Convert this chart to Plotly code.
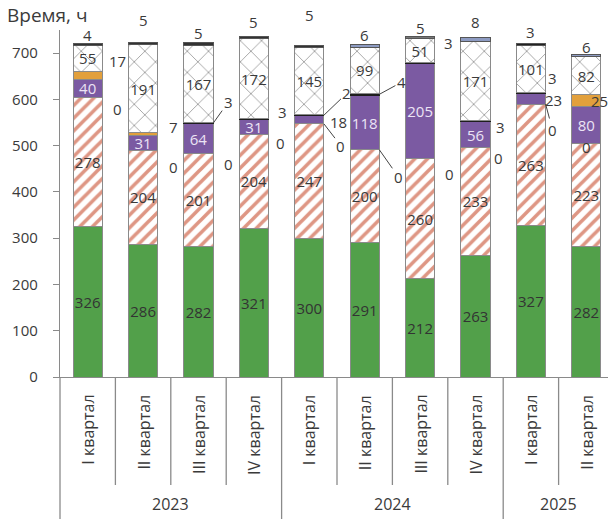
import plotly.graph_objects as go

# ---------------- data ----------------
years = ["2023", "2023", "2023", "2023", "2024", "2024", "2024", "2024", "2025", "2025"]
quarters = ["I квартал", "II квартал", "III квартал", "IV квартал",
            "I квартал", "II квартал", "III квартал", "IV квартал",
            "I квартал", "II квартал"]
green = [326, 286, 282, 321, 300, 291, 212, 263, 327, 282]
red = [278, 204, 201, 204, 247, 200, 260, 233, 263, 223]
zero = [0, 0, 0, 0, 0, 0, 0, 0, 0, 0]
purple = [40, 31, 64, 31, 18, 118, 205, 56, 23, 80]
black = [0, 0, 3, 3, 2, 4, 3, 3, 3, 0]
orange = [17, 7, 0, 0, 0, 0, 0, 0, 0, 25]
cross = [55, 191, 167, 172, 145, 99, 51, 171, 101, 82]
top = [4, 5, 5, 5, 5, 6, 5, 8, 3, 6]
y_ticks = [0, 100, 200, 300, 400, 500, 600, 700]
y_title = "Время, ч"

# ---------------- style ----------------
FONT = "Open Sans"
TXT = "#3a3a3a"
LINE = "#8a8a8a"
BW = 0.53
n = len(quarters)
xs = list(range(n))
top_colors = ["#333333", "#333333", "#333333", "#333333", "#333333",
              "#8d9bc2", "#777777", "#8d9bc2", "#222222", "#8d9bc2"]
inside_purple_show = [True, True, True, True, False, True, True, True, False, True]

fig = go.Figure()


def add(vals, color, text=None, tcolor=TXT, pattern=None, line_color=LINE):
    marker = dict(color=color, line=dict(color=line_color, width=1))
    if pattern is not None:
        marker["pattern"] = pattern
    fig.add_trace(go.Bar(
        x=xs, y=vals, width=BW, marker=marker,
        text=text, textposition="inside" if text is not None else "none",
        insidetextanchor="middle", constraintext="none", textangle=0,
        textfont=dict(family=FONT, size=15, color=tcolor),
        hoverinfo="skip", showlegend=False, cliponaxis=False,
    ))


add(green, "#52a04a", text=[str(v) for v in green], tcolor="#333333")
add(red, "white", text=[str(v) for v in red],
    pattern=dict(shape="/", fgcolor="#d9846e", bgcolor="white", size=9, solidity=0.4,
                 fgopacity=0.85))
add(purple, "#7b5aa2",
    text=[str(v) if s else "" for v, s in zip(purple, inside_purple_show)], tcolor="#ece4f5")
add(black, "#1e1e1e", line_color="#1e1e1e")
add(orange, "#e2a03c")
add(cross, "white", text=[str(v) for v in cross],
    pattern=dict(shape="x", fgcolor="#9a9a9a", bgcolor="white", size=15, solidity=0.11,
                 fgopacity=1))
add(top, top_colors, line_color="#555555")

# cumulative levels (from the data) for label anchors
def cum(*series):
    return [sum(s[i] for s in series) for i in range(n)]

lvl_zero = cum(green, red)
lvl_purple_mid = [lvl_zero[i] + purple[i] / 2 for i in range(n)]
lvl_black_mid = [lvl_zero[i] + purple[i] + black[i] / 2 for i in range(n)]
lvl_orange_mid = [lvl_zero[i] + purple[i] + black[i] + orange[i] / 2 for i in range(n)]
lvl_total = cum(green, red, purple, black, orange, cross, top)

annotations = []
tf = dict(family=FONT, size=15, color=TXT)


def lab(i, y, text, dx, dy):
    annotations.append(dict(x=i, y=y, xref="x", yref="y", text=text, showarrow=False,
                            xshift=dx, yshift=-dy, font=tf))


def leader(i, y, text, ax, ay):
    annotations.append(dict(x=i + BW / 2, y=y, xref="x", yref="y", text=text,
                            showarrow=True, arrowhead=0, arrowwidth=1, arrowcolor="#444",
                            ax=ax, ay=ay, standoff=0, font=tf))


# zero-series labels
zero_spec = {0: (30, 11), 1: (30, 17), 2: (30, 10), 3: (27, 9), 6: (29, 15), 7: (23, 10), 9: (0, 4)}
for i, (dx, dy) in zero_spec.items():
    lab(i, lvl_zero[i], str(zero[i]), dx, dy)
leader(4, lvl_zero[4], str(zero[4]), 17, 22)
leader(5, lvl_zero[5], str(zero[5]), 19, 27)
leader(8, lvl_zero[8], str(zero[8]), 7, 26)

# orange labels
orange_spec = {0: (30, -14), 1: (30, -7), 9: (13, 0)}
for i, (dx, dy) in orange_spec.items():
    lab(i, lvl_orange_mid[i], str(orange[i]), dx, dy)

# black labels
black_spec = {3: (29, -7), 6: (28, -20), 7: (25, 6), 8: (22, -15)}
for i, (dx, dy) in black_spec.items():
    lab(i, lvl_black_mid[i], str(black[i]), dx, dy)
leader(2, lvl_black_mid[2], str(black[2]), 15, -21)
leader(4, lvl_black_mid[4], str(black[4]), 23, -22)
leader(5, lvl_black_mid[5], str(black[5]), 22, -12)

# purple small labels
lab(4, lvl_purple_mid[4], str(purple[4]), 29, 2)
lab(8, lvl_purple_mid[8], str(purple[8]), 23, 1)

# top labels
top_shift = [9, 22, 10, 14, 30, 10, 8, 15, 12, 7]
for i in range(n):
    annotations.append(dict(x=i, y=lvl_total[i], xref="x", yref="y", text=str(top[i]),
                            showarrow=False, yshift=top_shift[i], yanchor="middle", font=tf))

# axis title
annotations.append(dict(x=-55 / 548, y=1.0 + 15 / 347, xref="paper", yref="paper", xanchor="left",
                        yanchor="middle", text=y_title, showarrow=False,
                        font=dict(family=FONT, size=19, color=TXT)))

# category labels (rotated) and year labels
for i, q in enumerate(quarters):
    annotations.append(dict(x=i, y=-16 / 347, xref="x", yref="paper", text=q, textangle=-90,
                            xanchor="center", yanchor="top", showarrow=False,
                            font=dict(family=FONT, size=16, color=TXT)))
groups = []
for i, y in enumerate(years):
    if not groups or groups[-1][0] != y:
        groups.append([y, i, i])
    else:
        groups[-1][2] = i
for y, a, b in groups:
    annotations.append(dict(x=(a + b) / 2, y=-127 / 347, xref="x", yref="paper", text=y,
                            xanchor="center", yanchor="middle", showarrow=False,
                            font=dict(family=FONT, size=16, color=TXT)))

# dividers
shapes = []
for i in range(n - 1):
    is_year = years[i] != years[i + 1]
    shapes.append(dict(type="line", xref="x", yref="paper", x0=i + 0.5, x1=i + 0.5,
                       y0=0, y1=(-142 if is_year else -108) / 347,
                       line=dict(color=LINE, width=1.3)))
shapes.append(dict(type="line", xref="paper", yref="paper", x0=0, x1=0, y0=0, y1=-142 / 347,
                   line=dict(color=LINE, width=1.3)))

fig.update_layout(
    barmode="stack",
    width=608, height=519,
    margin=dict(l=60, r=0, t=30, b=142),
    plot_bgcolor="white", paper_bgcolor="white",
    font=dict(family=FONT, color=TXT),
    annotations=annotations, shapes=shapes,
    xaxis=dict(range=[-0.5, -0.5 + 548 / 55.4], showticklabels=False, ticks="",
               showline=True, linecolor=LINE, linewidth=1.3, showgrid=False, zeroline=False,
               fixedrange=True),
    yaxis=dict(range=[0, 750], tickvals=y_ticks, ticks="outside", ticklen=6, tickcolor=LINE,
               showline=True, linecolor=LINE, linewidth=1.3, showgrid=False, zeroline=False,
               tickfont=dict(family=FONT, size=15, color=TXT), ticklabelstandoff=12,
               fixedrange=True),
)

fig.write_html("out.html")
